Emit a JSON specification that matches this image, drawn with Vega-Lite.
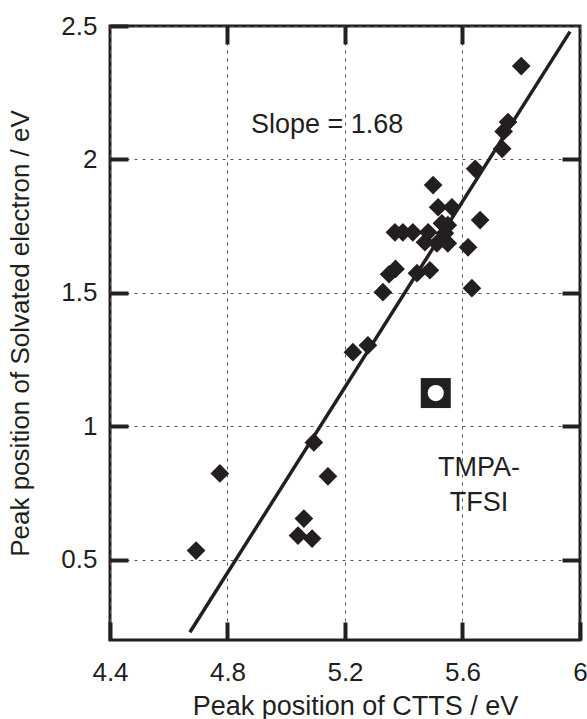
{
  "$schema": "https://vega.github.io/schema/vega-lite/v6.json",
  "width": 470,
  "height": 614,
  "autosize": "none",
  "padding": {"left": 110, "top": 26, "right": 7, "bottom": 79},
  "background": "white",
  "config": {
    "view": {"stroke": "#231f20", "strokeWidth": 3},
    "font": "Liberation Sans",
    "axis": {
      "labelFont": "Liberation Sans",
      "titleFont": "Liberation Sans",
      "labelColor": "#231f20",
      "titleColor": "#231f20",
      "titleFontWeight": "normal",
      "domain": false,
      "ticks": true,
      "tickSize": 18,
      "tickWidth": 4,
      "tickColor": "#231f20",
      "gridColor": "#555555",
      "gridDash": [3, 5],
      "gridWidth": 1
    }
  },
  "resolve": {"axis": {"x": "independent", "y": "independent"}},
  "layer": [
    {
      "data": {"values": [
        {"ctts": 5.80, "se": 2.35},
        {"ctts": 5.755, "se": 2.14},
        {"ctts": 5.74, "se": 2.105},
        {"ctts": 5.735, "se": 2.04},
        {"ctts": 5.643, "se": 1.965},
        {"ctts": 5.50, "se": 1.904},
        {"ctts": 5.517, "se": 1.821},
        {"ctts": 5.564, "se": 1.821},
        {"ctts": 5.66, "se": 1.773},
        {"ctts": 5.37, "se": 1.727},
        {"ctts": 5.397, "se": 1.727},
        {"ctts": 5.431, "se": 1.727},
        {"ctts": 5.483, "se": 1.727},
        {"ctts": 5.53, "se": 1.761},
        {"ctts": 5.55, "se": 1.754},
        {"ctts": 5.54, "se": 1.724},
        {"ctts": 5.472, "se": 1.69},
        {"ctts": 5.513, "se": 1.686},
        {"ctts": 5.55, "se": 1.686},
        {"ctts": 5.619, "se": 1.671},
        {"ctts": 5.372, "se": 1.59},
        {"ctts": 5.35, "se": 1.57},
        {"ctts": 5.445, "se": 1.574},
        {"ctts": 5.489, "se": 1.585},
        {"ctts": 5.329, "se": 1.503},
        {"ctts": 5.632, "se": 1.518},
        {"ctts": 5.227, "se": 1.278},
        {"ctts": 5.278, "se": 1.304},
        {"ctts": 5.094, "se": 0.94},
        {"ctts": 4.774, "se": 0.824},
        {"ctts": 5.142, "se": 0.813},
        {"ctts": 5.06, "se": 0.655},
        {"ctts": 5.04, "se": 0.591},
        {"ctts": 5.088, "se": 0.58},
        {"ctts": 4.693, "se": 0.535}
      ]},
      "mark": {"type": "point", "shape": "diamond", "filled": true, "size": 350, "color": "#231f20", "opacity": 1},
      "encoding": {
        "x": {
          "field": "ctts", "type": "quantitative",
          "scale": {"domain": [4.4, 6], "nice": false, "zero": false},
          "axis": {
            "orient": "bottom",
            "offset": -18,
            "title": "Peak position of CTTS / eV",
            "values": [4.4, 4.8, 5.2, 5.6, 6],
            "grid": true,
            "labelFontSize": 26,
            "titleFontSize": 27,
            "labelPadding": 19,
            "titlePadding": 8,
            "titleX": 245,
            "labelFlush": false,
            "format": "~g"
          }
        },
        "y": {
          "field": "se", "type": "quantitative",
          "scale": {"domain": [0.2, 2.5], "nice": false, "zero": false},
          "axis": {
            "orient": "left",
            "offset": -18,
            "title": "Peak position of Solvated electron / eV",
            "values": [0.5, 1, 1.5, 2, 2.5],
            "grid": true,
            "labelFontSize": 26,
            "titleFontSize": 26,
            "labelPadding": 13,
            "titlePadding": 27,
            "labelFlush": false,
            "format": "~g"
          }
        }
      }
    },
    {
      "data": {"values": [{"ctts": 4.672, "se": 0.229}, {"ctts": 5.966, "se": 2.479}]},
      "mark": {"type": "line", "color": "#231f20", "strokeWidth": 3.5},
      "encoding": {
        "x": {
          "field": "ctts", "type": "quantitative",
          "scale": {"domain": [4.4, 6], "nice": false, "zero": false},
          "axis": {"orient": "top", "offset": -18, "title": null, "labels": false, "grid": false, "values": [4.8, 5.2, 5.6]}
        },
        "y": {
          "field": "se", "type": "quantitative",
          "scale": {"domain": [0.2, 2.5], "nice": false, "zero": false},
          "axis": {"orient": "right", "offset": -18, "title": null, "labels": false, "grid": false, "values": [0.5, 1, 1.5, 2]}
        }
      }
    },
    {
      "data": {"values": [{"ctts": 5.509, "se": 1.125}]},
      "mark": {"type": "point", "shape": "square", "filled": true, "size": 900, "color": "#231f20", "opacity": 1},
      "encoding": {
        "x": {"field": "ctts", "type": "quantitative", "axis": null},
        "y": {"field": "se", "type": "quantitative", "axis": null}
      }
    },
    {
      "data": {"values": [{"ctts": 5.509, "se": 1.125}]},
      "mark": {"type": "point", "shape": "circle", "filled": true, "size": 260, "color": "white", "opacity": 1},
      "encoding": {
        "x": {"field": "ctts", "type": "quantitative", "axis": null},
        "y": {"field": "se", "type": "quantitative", "axis": null}
      }
    },
    {
      "data": {"values": [
        {"ctts": 5.139, "se": 2.099, "text": "Slope = 1.68"},
        {"ctts": 5.656, "se": 0.816, "text": "TMPA-"},
        {"ctts": 5.656, "se": 0.685, "text": "TFSI"}
      ]},
      "mark": {"type": "text", "fontSize": 27, "color": "#231f20", "align": "center", "baseline": "alphabetic", "font": "Liberation Sans"},
      "encoding": {
        "x": {"field": "ctts", "type": "quantitative", "axis": null},
        "y": {"field": "se", "type": "quantitative", "axis": null},
        "text": {"field": "text"}
      }
    }
  ]
}
